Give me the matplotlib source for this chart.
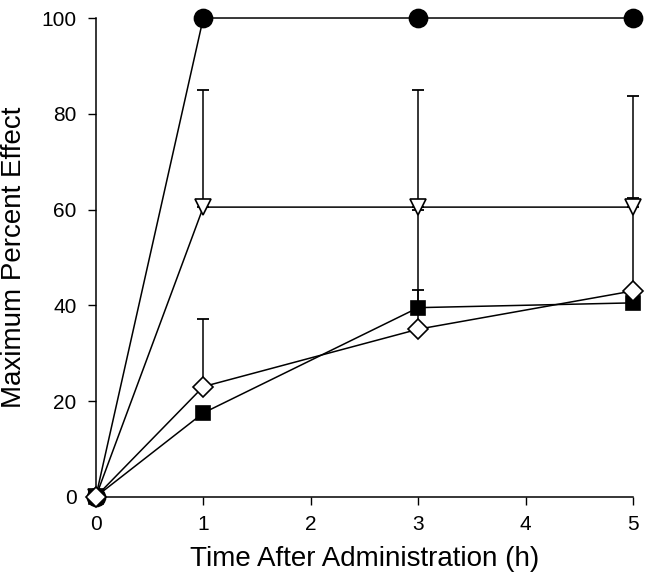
import matplotlib
matplotlib.use("Agg")
import matplotlib.pyplot as plt

plt.rcParams['font.family'] = ['Liberation Sans', 'DejaVu Sans']

# Time points (h)
time_h = [0, 1, 3, 5]

# Series values (maximum percent effect)
circle_vals = [0, 100, 100, 100]
triangle_vals = [0, 60.5, 60.5, 60.5]
triangle_err = [0, 24.5, 24.5, 23.3]
diamond_vals = [0, 23, 35, 43]
diamond_err = [0, 14.2, 25, 19.4]
square_vals = [0, 17.5, 39.5, 40.5]
square_err = [0, 0, 3.7, 0]

x_ticks = [0, 1, 2, 3, 4, 5]
y_ticks = [0, 20, 40, 60, 80, 100]

fig = plt.figure(figsize=(6.52, 5.81), dpi=100)
ax = fig.add_axes([0.147, 0.145, 0.824, 0.824])

line_kw = dict(color='black', linewidth=1.1, clip_on=False)
err_kw = dict(ecolor='black', elinewidth=1.1, capsize=4, capthick=1.3)


def draw(vals, err, marker, face, ms, z):
    ax.plot(time_h, vals, zorder=2, **line_kw)
    if err is not None:
        ax.errorbar(time_h, vals, yerr=[[0] * len(err), err], fmt='none',
                    zorder=2, clip_on=False, **err_kw)
    ax.plot(time_h, vals, linestyle='none', marker=marker, markersize=ms,
            markerfacecolor=face, markeredgecolor='black', markeredgewidth=1.2,
            zorder=z, clip_on=False)


draw(circle_vals, None, 'o', 'black', 13, 4)
draw(triangle_vals, triangle_err, 'v', 'white', 12, 4)
draw(square_vals, square_err, 's', 'black', 10, 5)
draw(diamond_vals, diamond_err, 'D', 'white', 10, 6)

ax.set_xlim(0, 5)
ax.set_ylim(0, 100)
ax.set_xticks(x_ticks)
ax.set_yticks(y_ticks)
ax.tick_params(axis='both', direction='out', length=6, width=1,
               labelsize=15)
ax.tick_params(axis='y', pad=8)
ax.tick_params(axis='x', pad=7)

for side in ['top', 'right']:
    ax.spines[side].set_visible(False)
for side in ['left', 'bottom']:
    ax.spines[side].set_linewidth(1.1)

ax.set_xlabel('Time After Administration (h)', fontsize=20, labelpad=9)
ax.set_ylabel('Maximum Percent Effect', fontsize=20, labelpad=10)

fig.savefig('out.png', dpi=100)
